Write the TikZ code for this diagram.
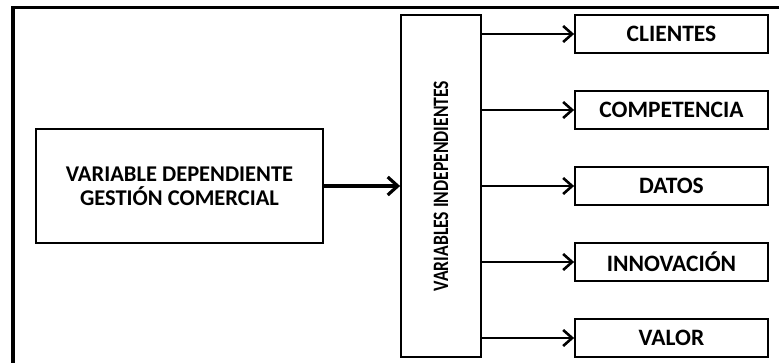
\documentclass[tikz,border=0pt]{standalone}
\usepackage{fontspec}
\setmainfont{Carlito}
\usetikzlibrary{arrows.meta}
\begin{document}
\begin{tikzpicture}[x=1pt,y=1pt,
  box/.style={draw, line width=1.8pt, inner sep=0pt, align=center,
              font=\bfseries\fontsize{22.5}{24}\selectfont},
  target/.style={box, minimum width=193pt, minimum height=38pt,
                 font=\bfseries\fontsize{23.5}{26}\selectfont},
  link/.style={line width=2.8pt, -{Straight Barb[length=9pt,width=16pt,line width=2.6pt]}},
  mainlink/.style={line width=3.8pt, -{Straight Barb[length=10pt,width=18pt,line width=3.2pt]}}]
  \useasboundingbox (0,0) rectangle (779,-363);
  \begin{scope}
    \clip (0,0) rectangle (779,-363);
    % outer frame, open to the right and below
    \draw[line width=3.6pt] (13,-370) -- (13,-7.5) -- (790,-7.5);
  \end{scope}

  % dependent variable
  \node[box, minimum width=287pt, minimum height=114pt] (dep) at (179.5,-186)
    {VARIABLE DEPENDIENTE\\GESTIÓN COMERCIAL};

  % independent variables column
  \node[draw, line width=1.8pt, minimum width=80pt, minimum height=342pt, inner sep=0pt]
    (indep) at (441,-186) {};
  \node[rotate=90, xscale=0.8, font=\bfseries\fontsize{22}{24}\selectfont] (indeplabel)
    at (indep.center) {VARIABLES INDEPENDIENTES};

  % independent variables
  \node[target] (t1) at (671.5,-34)  {CLIENTES};
  \node[target] (t2) at (671.5,-110) {COMPETENCIA};
  \node[target] (t3) at (671.5,-186) {DATOS};
  \node[target] (t4) at (671.5,-262) {INNOVACIÓN};
  \node[target] (t5) at (671.5,-338) {VALOR};

  \draw[mainlink] (dep.east) -- (indep.west);
  \foreach \t in {t1,t2,t3,t4,t5}
    \draw[link] (indep.east |- \t.west) -- (\t.west);
\end{tikzpicture}
\end{document}
